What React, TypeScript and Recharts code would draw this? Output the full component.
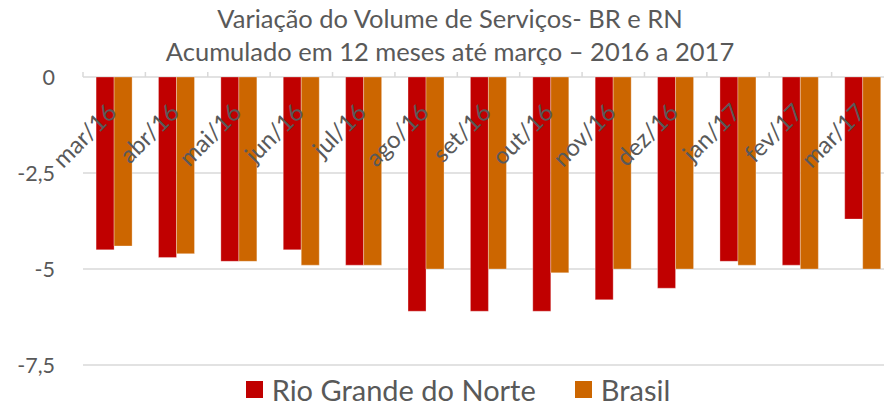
import React from "react";
import {
  BarChart,
  Bar,
  XAxis,
  YAxis,
  CartesianGrid,
} from "recharts";

const months = [
  "mar/16", "abr/16", "mai/16", "jun/16", "jul/16", "ago/16", "set/16",
  "out/16", "nov/16", "dez/16", "jan/17", "fev/17", "mar/17",
];
const rnValues = [-4.5, -4.7, -4.8, -4.5, -4.9, -6.1, -6.1, -6.1, -5.8, -5.5, -4.8, -4.9, -3.7];
const brValues = [-4.4, -4.6, -4.8, -4.9, -4.9, -5.0, -5.0, -5.1, -5.0, -5.0, -4.9, -5.0, -5.0];
const yTicks = [0, -2.5, -5, -7.5];
const titleLines = [
  "Variação do Volume de Serviços- BR e RN",
  "Acumulado em 12 meses até março – 2016 a 2017",
];

const data = months.map((m, i) => ({ month: m, rn: rnValues[i], br: brValues[i] }));

const FONT = "Lato, 'Open Sans', sans-serif";
const TEXT = "#595959";
const GRID = "#d9d9d9";
const CHART_W = 894;
const CHART_H = 406;
const PLOT_LEFT = 83;
const PLOT_TOP = 77;
const STEP = (CHART_W - PLOT_LEFT) / months.length;

const MonthTick = (props: any) => {
  const { x, payload } = props;
  const tx = x + 4;
  const ty = PLOT_TOP + 37;
  return (
    <g>
      <line x1={x - STEP / 2} x2={x - STEP / 2} y1={PLOT_TOP - 5} y2={PLOT_TOP} stroke={GRID} strokeWidth={1.5} />
      <text
        x={tx}
        y={ty}
        textAnchor="end"
        fill={TEXT}
        fontSize={24}
        fontFamily={FONT}
        transform={`rotate(-45 ${tx} ${ty})`}
      >
        {payload.value}
      </text>
    </g>
  );
};

export default function App() {
  return (
    <div
      style={{
        position: "fixed",
        left: 0,
        top: 0,
        width: 884,
        height: 406,
        overflow: "hidden",
        background: "#fff",
      }}
    >
      <div
        style={{
          position: "absolute",
          left: 0,
          top: 2,
          width: 900,
          textAlign: "center",
          fontFamily: FONT,
          fontSize: 25.5,
          lineHeight: "33px",
          color: TEXT,
          zIndex: 1,
        }}
      >
        {titleLines.map((t) => (
          <div key={t}>{t}</div>
        ))}
      </div>
      <BarChart
        width={CHART_W}
        height={CHART_H}
        data={data}
        margin={{ top: PLOT_TOP - 1, right: 0, left: 0, bottom: 41 }}
        barCategoryGap="21%"
        barGap={0}
      >
        <CartesianGrid vertical={false} stroke={GRID} strokeWidth={1.5} />
        <XAxis
          dataKey="month"
          orientation="top"
          height={1}
          axisLine={false}
          tickLine={false}
          tick={<MonthTick />}
          interval={0}
        />
        <YAxis
          width={PLOT_LEFT}
          domain={[-7.5, 0]}
          ticks={yTicks}
          axisLine={false}
          tickLine={false}
          tickMargin={22}
          tick={{ fill: TEXT, fontSize: 21.5, fontFamily: FONT }}
          tickFormatter={(v: number) => String(v).replace(".", ",")}
        />
        <Bar
          dataKey="rn"
          name="Rio Grande do Norte"
          fill="#C00000"
          stroke="#ffffff"
          strokeOpacity={0.4}
          strokeWidth={0.75}
          isAnimationActive={false}
        />
        <Bar
          dataKey="br"
          name="Brasil"
          fill="#CC6600"
          stroke="#ffffff"
          strokeOpacity={0.4}
          strokeWidth={0.75}
          isAnimationActive={false}
        />
      </BarChart>
      <div
        style={{
          position: "absolute",
          left: 0,
          top: 372,
          width: 884,
          height: 34,
          display: "flex",
          justifyContent: "center",
          alignItems: "center",
          fontFamily: FONT,
          fontSize: 29,
          color: TEXT,
          paddingLeft: 32,
          boxSizing: "border-box",
        }}
      >
        <span style={{ width: 17, height: 17, background: "#C00000", display: "inline-block", marginRight: 9 }} />
        <span style={{ marginRight: 39 }}>Rio Grande do Norte</span>
        <span style={{ width: 17, height: 17, background: "#CC6600", display: "inline-block", marginRight: 9 }} />
        <span>Brasil</span>
      </div>
    </div>
  );
}
